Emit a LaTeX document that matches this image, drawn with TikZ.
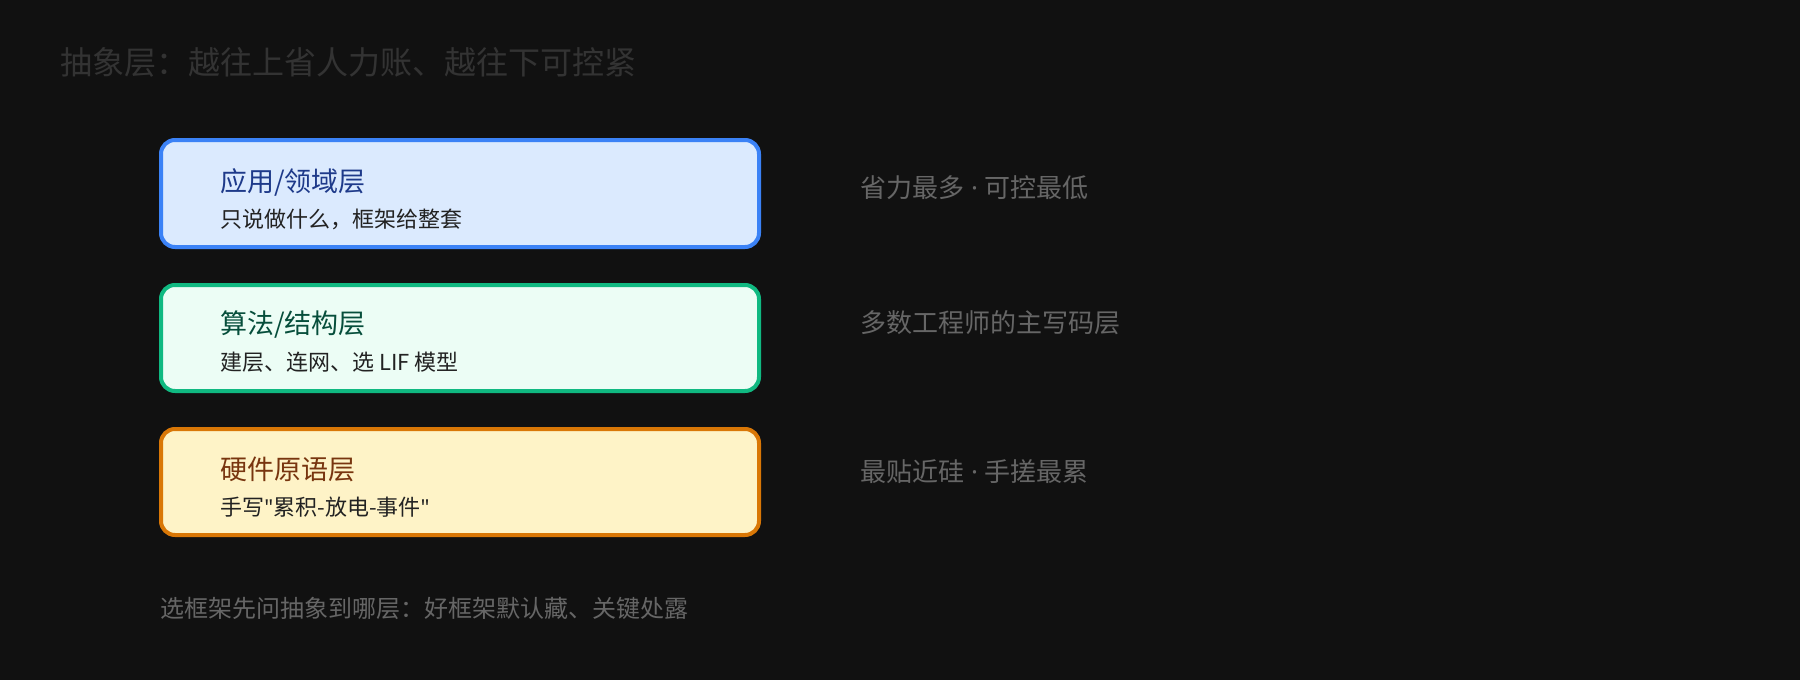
\documentclass[tikz,border=0pt]{standalone}
\usepackage{fontspec}
\setmainfont{Noto Sans CJK SC}
\newfontfamily\latinfont{Noto Sans}
\newcommand{\dq}{{\latinfont\char"22}}
\newcommand{\middotsep}{{\latinfont\ ·\ }}
\definecolor{bg}{HTML}{111111}
\definecolor{titlec}{HTML}{333333}
\definecolor{muted}{HTML}{666666}
\definecolor{subc}{HTML}{222222}
\definecolor{bluefill}{HTML}{DBEAFE}
\definecolor{blueline}{HTML}{3B82F6}
\definecolor{bluetext}{HTML}{1E3A8A}
\definecolor{greenfill}{HTML}{ECFDF5}
\definecolor{greenline}{HTML}{10B981}
\definecolor{greentext}{HTML}{064E3B}
\definecolor{amberfill}{HTML}{FEF3C7}
\definecolor{amberline}{HTML}{D97706}
\definecolor{ambertext}{HTML}{78350F}
\begin{document}
\begin{tikzpicture}[x=0.5pt,y=-0.5pt,
  layerbox/.style={draw, line width=2pt, rounded corners=7pt},
  layertitle/.style={anchor=west, inner sep=0pt, font=\fontsize{13.5pt}{16pt}\selectfont},
  layersub/.style={anchor=west, inner sep=0pt, text=subc, font=\fontsize{11pt}{13pt}\selectfont},
  sidenote/.style={anchor=west, inner sep=0pt, text=muted, font=\fontsize{13pt}{15pt}\selectfont}]
\fill[bg] (0,0) rectangle (1800,680);
\useasboundingbox (0,0) rectangle (1800,680);

\node[anchor=west, inner sep=0pt, text=titlec, font=\fontsize{16pt}{19pt}\selectfont] (title) at (60,62) {抽象层：越往上省人力账、越往下可控紧};

\draw[layerbox, fill=bluefill, draw=blueline] (161,140) rectangle (759,247);
\node[layertitle, text=bluetext] (t1) at (220,182) {应用/领域层};
\node[layersub] (s1) at (220,219) {只说做什么，框架给整套};

\draw[layerbox, fill=greenfill, draw=greenline] (161,285) rectangle (759,391);
\node[layertitle, text=greentext] (t2) at (220,325) {算法/结构层};
\node[layersub] (s2) at (220,362) {建层、连网、选 LIF 模型};

\draw[layerbox, fill=amberfill, draw=amberline] (161,429) rectangle (759,535);
\node[layertitle, text=ambertext] (t3) at (220,469) {硬件原语层};
\node[layersub] (s3) at (220,507) {手写\dq 累积-放电-事件\dq};

\node[sidenote] (n1) at (860,188) {省力最多\middotsep 可控最低};
\node[sidenote] (n2) at (860,323) {多数工程师的主写码层};
\node[sidenote] (n3) at (860,472) {最贴近硅\middotsep 手搓最累};

\node[anchor=west, inner sep=0pt, text=muted, font=\fontsize{12pt}{14pt}\selectfont] (foot) at (160,608) {选框架先问抽象到哪层：好框架默认藏、关键处露};
\end{tikzpicture}
\end{document}
